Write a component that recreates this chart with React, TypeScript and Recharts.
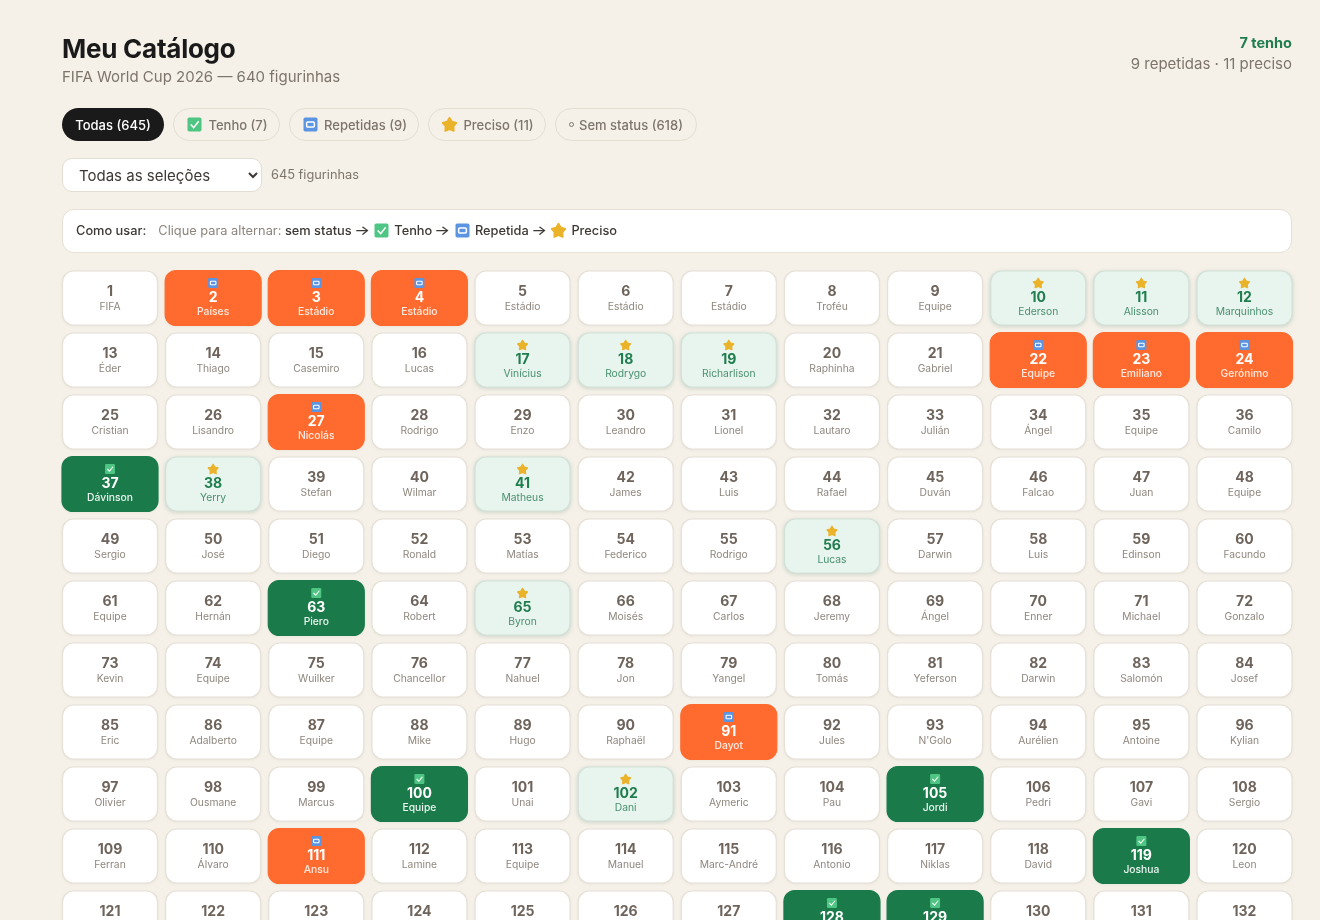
import React from "react";
import { ScatterChart, Scatter, XAxis, YAxis } from "recharts";

const FONT = "Inter, 'Noto Sans', sans-serif";
const COLUMNS = 12;
const names = [
  "FIFA","Países","Estádio","Estádio","Estádio","Estádio","Estádio","Troféu","Equipe","Ederson","Alisson","Marquinhos",
  "Éder","Thiago","Casemiro","Lucas","Vinícius","Rodrygo","Richarlison","Raphinha","Gabriel","Equipe","Emiliano","Gerónimo",
  "Cristian","Lisandro","Nicolás","Rodrigo","Enzo","Leandro","Lionel","Lautaro","Julián","Ángel","Equipe","Camilo",
  "Dávinson","Yerry","Stefan","Wilmar","Matheus","James","Luis","Rafael","Duván","Falcao","Juan","Equipe",
  "Sergio","José","Diego","Ronald","Matías","Federico","Rodrigo","Lucas","Darwin","Luis","Edinson","Facundo",
  "Equipe","Hernán","Piero","Robert","Byron","Moisés","Carlos","Jeremy","Ángel","Enner","Michael","Gonzalo",
  "Kevin","Equipe","Wuilker","Chancellor","Nahuel","Jon","Yangel","Tomás","Yeferson","Darwin","Salomón","Josef",
  "Eric","Adalberto","Equipe","Mike","Hugo","Raphaël","Dayot","Jules","N'Golo","Aurélien","Antoine","Kylian",
  "Olivier","Ousmane","Marcus","Equipe","Unai","Dani","Aymeric","Pau","Jordi","Pedri","Gavi","Sergio",
  "Ferran","Álvaro","Ansu","Lamine","Equipe","Manuel","Marc-André","Antonio","Niklas","David","Joshua","Leon",
  "","","","","","","","","","","","",
];
const repeated = [2, 3, 4, 22, 23, 24, 27, 91, 111];
const owned = [37, 63, 100, 105, 119, 128, 129];
const needed = [10, 11, 12, 17, 18, 19, 38, 41, 56, 65, 102];

type Sticker = { n: number; name: string; col: number; row: number };
const stickers: Sticker[] = names.map((name, i) => ({
  n: i + 1, name, col: i % COLUMNS, row: Math.floor(i / COLUMNS),
}));
const inList = (l: number[]) => stickers.filter((s) => l.includes(s.n));
const plain = stickers.filter((s) => ![...repeated, ...owned, ...needed].includes(s.n));

function glyph(kind: string, cx: number, cy: number, s: number) {
  const h = s / 2;
  if (kind === "check")
    return (
      <g>
        <rect x={cx - h} y={cy - h} width={s} height={s} rx={s * 0.12} fill="#4fc583" />
        <path d={`M${cx - h * 0.55} ${cy}L${cx - h * 0.12} ${cy + h * 0.45}L${cx + h * 0.6} ${cy - h * 0.45}`} fill="none" stroke="#fff" strokeWidth={s * 0.11} />
      </g>
    );
  if (kind === "repeat")
    return (
      <g>
        <rect x={cx - h} y={cy - h} width={s} height={s} rx={s * 0.12} fill="#5b94e0" />
        <rect x={cx - h * 0.55} y={cy - h * 0.35} width={h * 1.1} height={h * 0.7} rx={h * 0.15} fill="none" stroke="#fff" strokeWidth={s * 0.11} />
      </g>
    );
  const pts: string[] = [];
  for (let i = 0; i < 10; i++) {
    const r = i % 2 ? h * 0.6 : h * 1.05;
    const a = (-90 + i * 36) * (Math.PI / 180);
    pts.push(`${cx + r * Math.cos(a)},${cy + 0.5 + r * Math.sin(a)}`);
  }
  return <polygon points={pts.join(" ")} fill="#eab32a" stroke="#eab32a" strokeWidth={s * 0.12} strokeLinejoin="round" />;
}

const Icon = ({ kind, size = 15 }: { kind: string; size?: number }) => (
  <svg width={size} height={size} style={{ verticalAlign: "-3px", margin: "0 2px" }}>
    {glyph(kind, size / 2, size / 2, size - 1)}
  </svg>
);

const styles: Record<string, any> = {
  plain: { fill: "#ffffff", stroke: "#e6e0d6", num: "#6e645b", label: "#8f877e", pad: 0 },
  repeat: { fill: "#ff6b2e", stroke: "#ff6b2e", num: "#ffffff", label: "#ffe9df", pad: 0.5, icon: "repeat" },
  check: { fill: "#1a7a4a", stroke: "#1a7a4a", num: "#ffffff", label: "#ecf6f0", pad: 0.5, icon: "check" },
  star: { fill: "#e8f4ee", stroke: "#d2e1d8", num: "#1f7d4e", label: "#4a9070", pad: 0, icon: "star", shadow: true },
};

const makeCard = (kind: string) => (props: any) => {
  const { cx, cy, payload } = props;
  const st = styles[kind];
  const w = 95 + st.pad * 2;
  const h = 54 + st.pad * 2;
  return (
    <g>
      <rect x={cx - w / 2} y={cy - h / 2} width={w} height={h} rx={11} fill={st.fill} stroke={st.stroke} strokeWidth={1.2}
        style={st.shadow ? { filter: "drop-shadow(0 1px 2px rgba(30,90,60,0.2))" } : { filter: "drop-shadow(0 1px 1px rgba(60,50,40,0.05))" }} />
      {st.icon ? glyph(st.icon, cx, cy - 15, 10) : null}
      <text x={cx} y={cy + (st.icon ? 3.5 : -2)} textAnchor="middle" fontFamily={FONT} fontSize={14} fontWeight={700} fill={st.num}>
        {payload.n}
      </text>
      <text x={cx} y={cy + (st.icon ? 17 : 12)} textAnchor="middle" fontFamily={FONT} fontSize={10.3} fontWeight={st.icon && kind !== "star" ? 500 : 400} fill={st.label}>
        {payload.name}
      </text>
    </g>
  );
};

const chips = [
  { label: "Todas (645)", x: 62, w: 102, active: true },
  { label: "Tenho (7)", x: 173, w: 107, icon: "check" },
  { label: "Repetidas (9)", x: 289, w: 130, icon: "repeat" },
  { label: "Preciso (11)", x: 428, w: 118, icon: "star" },
  { label: "Sem status (618)", x: 555, w: 142, dot: true },
];

const abs = (left: number, top: number, extra: any = {}) => ({ position: "absolute" as const, left, top, whiteSpace: "nowrap" as const, ...extra });
const Arrow = () => <span style={{ display: "inline-block", transform: "scaleX(1.3)", margin: "0 4px" }}>→</span>;

export default function App() {
  return (
    <div style={{ position: "fixed", left: 0, top: 0, width: 1320, height: 920, overflow: "hidden", background: "#f5f1e9", fontFamily: FONT, filter: "blur(0.35px)" }}>
      <div style={abs(62, 33, { fontSize: 26, fontWeight: 700, color: "#1a1a1a", lineHeight: "32px", letterSpacing: -0.25 })}>Meu Catálogo</div>
      <div style={abs(62, 67, { fontSize: 15, color: "#7d756b", lineHeight: "20px" })}>FIFA World Cup 2026 — 640 figurinhas</div>
      <div style={{ position: "absolute", right: 28, top: 33, textAlign: "right", whiteSpace: "nowrap" }}>
        <div style={{ fontSize: 14.5, fontWeight: 700, color: "#1f7d4e", lineHeight: "20px" }}>7 tenho</div>
        <div style={{ fontSize: 15, color: "#7d756b", lineHeight: "22px" }}>9 repetidas · 11 preciso</div>
      </div>
      {chips.map((c) => (
        <div key={c.label} style={abs(c.x, 108, {
          width: c.w, height: 33, boxSizing: "border-box", borderRadius: 17, display: "flex", alignItems: "center", justifyContent: "center", gap: 4,
          background: c.active ? "#1a1a1a" : "#f5f1e9", color: c.active ? "#fff" : "#7d756b",
          border: c.active ? "none" : "1.5px solid #e3ddd2", fontSize: 13, fontWeight: 500,
        })}>
          {c.icon ? <Icon kind={c.icon} /> : null}
          {c.dot ? <span style={{ width: 5, height: 5, boxSizing: "border-box", border: "1px solid #7d756b", borderRadius: "50%", marginRight: 1 }} /> : null}
          <span>{c.label}</span>
        </div>
      ))}
      <select defaultValue="all" style={abs(62, 158, {
        width: 200, height: 34, boxSizing: "border-box", borderRadius: 10, background: "#fff", border: "1.5px solid #e3ddd2",
        fontFamily: FONT, fontSize: 15, color: "#3d3833", padding: "0 12px",
      })}>
        <option value="all">Todas as seleções</option>
      </select>
      <div style={abs(271, 166, { fontSize: 12.8, color: "#7d756b", lineHeight: "18px" })}>645 figurinhas</div>
      <div style={abs(62, 209, {
        width: 1230, height: 44, boxSizing: "border-box", borderRadius: 12, background: "#fff", border: "1.5px solid #e6e0d6",
        fontSize: 12.8, lineHeight: "41px", paddingLeft: 13, color: "#8d857c",
      })}>
        <span style={{ fontWeight: 500, color: "#3d3833", marginRight: 12 }}>Como usar:</span>
        Clique para alternar: <span style={{ fontWeight: 500, color: "#3d3833" }}>sem status<Arrow /><Icon kind="check" /> Tenho<Arrow /><Icon kind="repeat" /> Repetida<Arrow /><Icon kind="star" /> Preciso</span>
      </div>
      <div style={{ position: "absolute", left: 0, top: 0 }}>
        <ScatterChart width={1320} height={920} margin={{ left: 110, right: 75.5, top: 298, bottom: 2 }}>
          <XAxis type="number" dataKey="col" domain={[0, 11]} hide />
          <YAxis type="number" dataKey="row" domain={[0, 10]} reversed hide />
          <Scatter data={plain} shape={makeCard("plain")} isAnimationActive={false} />
          <Scatter data={inList(repeated)} shape={makeCard("repeat")} isAnimationActive={false} />
          <Scatter data={inList(owned)} shape={makeCard("check")} isAnimationActive={false} />
          <Scatter data={inList(needed)} shape={makeCard("star")} isAnimationActive={false} />
        </ScatterChart>
      </div>
    </div>
  );
}
